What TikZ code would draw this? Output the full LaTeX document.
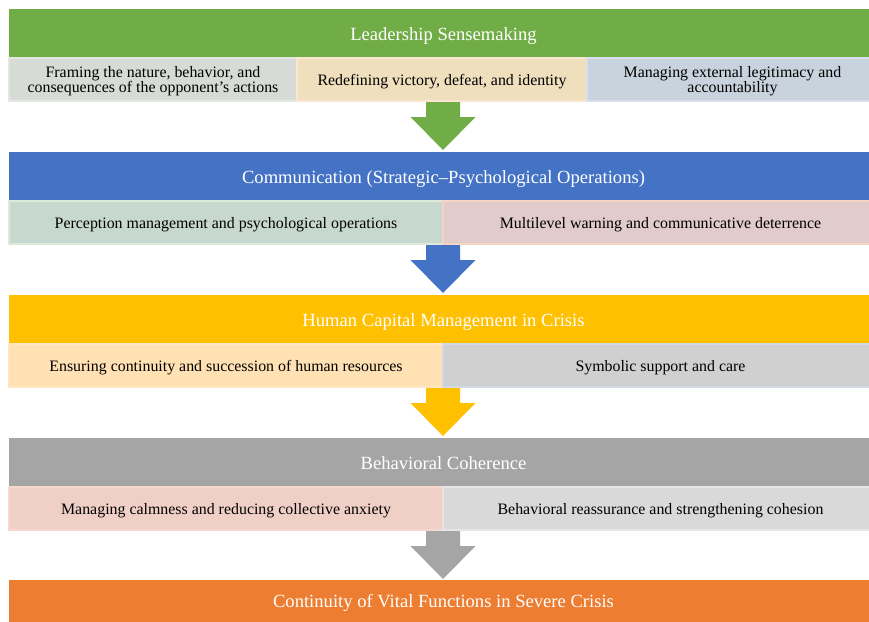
\documentclass[tikz,border=0pt]{standalone}
\usepackage{fontspec}
\setmainfont{Liberation Serif}
\definecolor{cgreen}{HTML}{70AD47}
\definecolor{cblue}{HTML}{4472C4}
\definecolor{cyellow}{HTML}{FFC000}
\definecolor{cgray}{HTML}{A5A5A5}
\definecolor{corange}{HTML}{ED7D31}
% sub-box fills / borders
\definecolor{fA}{HTML}{D6DCD5}\definecolor{bA}{HTML}{E3E6E1}
\definecolor{fB}{HTML}{EFDFBD}\definecolor{bB}{HTML}{FBE5D3}
\definecolor{fC}{HTML}{C9D3DD}\definecolor{bC}{HTML}{D8DEEC}
\definecolor{fD}{HTML}{C7D9CE}\definecolor{bD}{HTML}{DCEADB}
\definecolor{fE}{HTML}{E2CBCB}\definecolor{bE}{HTML}{F7D3C3}
\definecolor{fF}{HTML}{FFE1B4}\definecolor{bF}{HTML}{FFE7C4}
\definecolor{fG}{HTML}{D0D0D0}\definecolor{bG}{HTML}{D3D9E7}
\definecolor{fH}{HTML}{F0D0C6}\definecolor{bH}{HTML}{F7D8CF}
\definecolor{fI}{HTML}{D9D9D9}\definecolor{bI}{HTML}{E6E6E6}
\tikzset{
  hdr/.style={rectangle, inner sep=0pt, outer sep=0pt, minimum width=869pt,
    minimum height=48pt, text=white, text height=18pt, text depth=4pt,
    font=\fontsize{18.6}{21}\selectfont},
  subbox/.style 2 args={rectangle, fill=#1, draw=#2, line width=2.5pt,
    inner sep=0pt, outer sep=0pt, minimum height=43pt,
    text=black, text height=15pt, text depth=3.4pt,
    font=\fontsize{15.9}{14.6}\selectfont},
  emptybox/.style 2 args={rectangle, fill=#1, draw=#2, line width=2.5pt,
    inner sep=0pt, outer sep=0pt, minimum height=43pt},
  subtxt/.style={inner sep=0pt, align=center, text=black,
    font=\fontsize{15.9}{14.6}\selectfont},
}
\newcommand{\mydownarrow}[2]{%
  \fill[#2] (#1) ++(-17,0) -- ++(34,0) -- ++(0,15) -- ++(15.5,0)
    -- ++(-32.5,33) -- ++(-32.5,-33) -- ++(15.5,0) -- cycle;}
\begin{document}
\begin{tikzpicture}[x=1pt,y=-1pt]
\useasboundingbox (0,0) rectangle (869,621);
\clip (0,0) rectangle (869,621);
\fill[white] (0,0) rectangle (869,621);
% level 0
\node[hdr, fill=cgreen] (h0) at (443.5,33) {Leadership Sensemaking};
\node[emptybox={fA}{bA}, minimum width=288pt] (s01) at (153,79.5) {};
\node[emptybox={fB}{bB}, minimum width=290pt] (s02) at (442,79.5) {};
\node[emptybox={fC}{bC}, minimum width=291pt] (s03) at (732.5,79.5) {};
\node[subtxt] (t01) at ([yshift=-1.8pt]s01.center)
  {Framing the nature, behavior, and\\consequences of the opponent’s actions};
\node[subtxt, text height=15pt, text depth=3.4pt] (t02) at (s02.center)
  {Redefining victory, defeat, and identity};
\node[subtxt] (t03) at ([yshift=-1.8pt]s03.center)
  {Managing external legitimacy and\\accountability};
\coordinate (a0) at (443,102);
\mydownarrow{a0}{cgreen}
% level 1
\node[hdr, fill=cblue] (h1) at (443.5,176) {Communication (Strategic–Psychological Operations)};
\node[subbox={fD}{bD}, minimum width=434pt] (s11) at (226,222.5)
  {Perception management and psychological operations};
\node[subbox={fE}{bE}, minimum width=435pt] (s12) at (660.5,222.5)
  {Multilevel warning and communicative deterrence};
\coordinate (a1) at (443,245);
\mydownarrow{a1}{cblue}
% level 2
\node[hdr, fill=cyellow] (h2) at (443.5,319) {Human Capital Management in Crisis};
\node[subbox={fF}{bF}, minimum width=434pt] (s21) at (226,365.5)
  {Ensuring continuity and succession of human resources};
\node[subbox={fG}{bG}, minimum width=435pt] (s22) at (660.5,365.5)
  {Symbolic support and care};
\coordinate (a2) at (443,388);
\mydownarrow{a2}{cyellow}
% level 3
\node[hdr, fill=cgray] (h3) at (443.5,462) {Behavioral Coherence};
\node[subbox={fH}{bH}, minimum width=434pt] (s31) at (226,508.5)
  {Managing calmness and reducing collective anxiety};
\node[subbox={fI}{bI}, minimum width=435pt] (s32) at (660.5,508.5)
  {Behavioral reassurance and strengthening cohesion};
\coordinate (a3) at (443,531);
\mydownarrow{a3}{cgray}
% level 4
\node[hdr, fill=corange, text depth=12pt] (h4) at (443.5,604) {Continuity of Vital Functions in Severe Crisis};
\end{tikzpicture}
\end{document}
